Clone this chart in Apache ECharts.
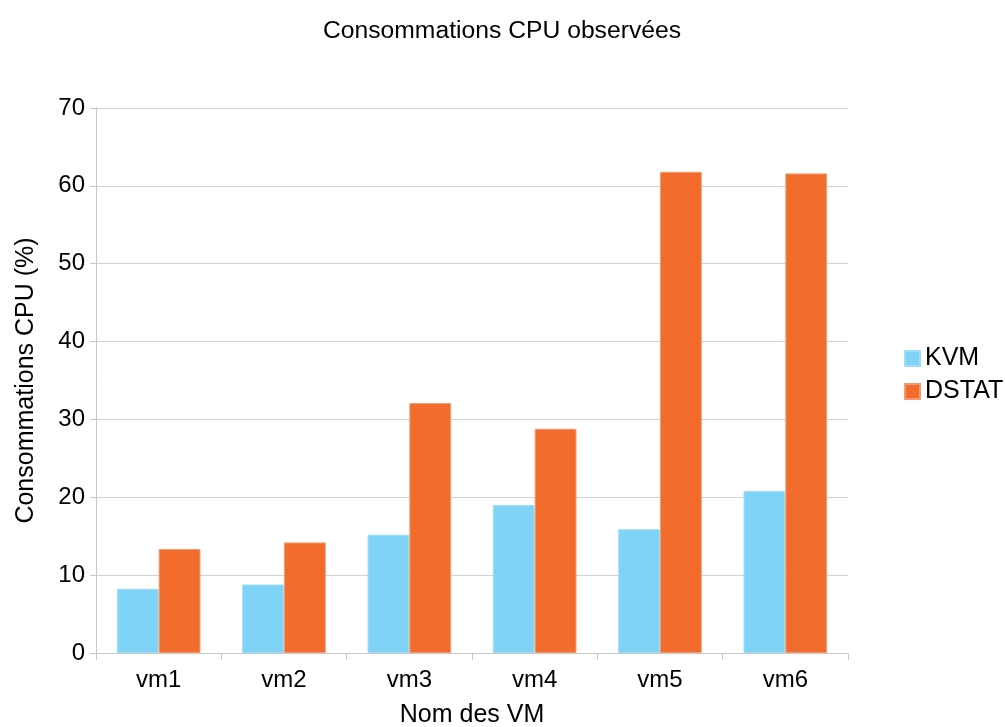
<!DOCTYPE html>
<html>
<head>
<meta charset="utf-8">
<script src="https://cdn.jsdelivr.net/npm/echarts@6/dist/echarts.min.js"></script>
<style>
html,body{margin:0;padding:0;background:#fff;}
#chart{width:1005px;height:727px;}
</style>
</head>
<body>
<div id="chart"></div>
<script>
const categories = ['vm1','vm2','vm3','vm4','vm5','vm6'];
const kvmValues = [8.25, 8.8, 15.2, 19.0, 15.9, 20.8];
const dstatValues = [13.35, 14.2, 32.1, 28.8, 61.8, 61.6];
const seriesNames = ['KVM','DSTAT'];

const font = 'Liberation Sans, Arial, sans-serif';
const chart = echarts.init(document.getElementById('chart'), null, {renderer:'canvas'});
chart.setOption({
  backgroundColor:'#ffffff',
  animation:false,
  title:{
    text:'Consommations CPU observées',
    left:497, top:14, textAlign:'center',
    textStyle:{fontFamily:font, fontSize:24.7, fontWeight:'normal', color:'#000'}
  },
  legend:{
    orient:'vertical', left:899, top:341, itemWidth:15, itemHeight:15, itemGap:8,
    icon:'rect',
    textStyle:{fontFamily:font, fontSize:25, color:'#000', padding:[0,0,0,0]},
    data:seriesNames
  },
  grid:{left:96, right:157, top:108, bottom:74, containLabel:false, outerBoundsMode:'none'},
  xAxis:{
    type:'category', data:categories,
    name:'Nom des VM', nameLocation:'middle', nameGap:50,
    nameTextStyle:{fontFamily:font, fontSize:25, color:'#000'},
    axisLine:{lineStyle:{color:'#c8c8c8', width:1}},
    axisTick:{show:true, alignWithLabel:false, length:7, lineStyle:{color:'#c8c8c8'}},
    axisLabel:{fontFamily:font, fontSize:24, color:'#000', margin:15}
  },
  yAxis:{
    type:'value', min:0, max:70, interval:10,
    name:'Consommations CPU (%)', nameLocation:'middle', nameGap:57,
    nameTextStyle:{fontFamily:font, fontSize:25, color:'#000'},
    axisLine:{show:true, lineStyle:{color:'#c8c8c8', width:1}},
    axisTick:{show:true, length:6, lineStyle:{color:'#c8c8c8'}},
    axisLabel:{fontFamily:font, fontSize:24, color:'#000', margin:11},
    splitLine:{lineStyle:{color:'#d0d0d0', width:1}}
  },
  series:[
    {name:seriesNames[0], type:'bar', data:kvmValues, barGap:'0%', barCategoryGap:'33.3%',
     itemStyle:{color:'#7fd3f7', borderColor:'#9fdcf7', borderWidth:1}},
    {name:seriesNames[1], type:'bar', data:dstatValues, barGap:'0%', barCategoryGap:'33.3%',
     itemStyle:{color:'#f26d2d', borderColor:'#f59a6e', borderWidth:1}}
  ]
});
</script>
</body>
</html>
